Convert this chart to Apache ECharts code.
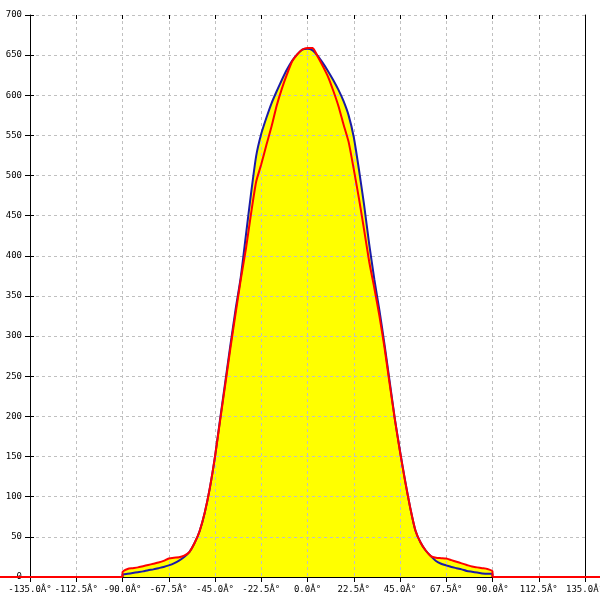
<!DOCTYPE html>
<html>
<head>
<meta charset="utf-8">
<script src="https://cdn.jsdelivr.net/npm/echarts@6/dist/echarts.min.js"></script>
<style>html,body{margin:0;padding:0;background:#fff}#c{width:600px;height:600px}</style>
</head>
<body>
<div id="c"></div>
<script>
// angles (degrees), step 2.5 from -90 to 90
const angles = [-90,-87.5,-85,-82.5,-80,-77.5,-75,-72.5,-70,-67.5,-65,-62.5,-60,-57.5,-55,-52.5,-50,-47.5,-45,-42.5,-40,-37.5,-35,-32.5,-30,-27.5,-25,-22.5,-20,-17.5,-15,-12.5,-10,-7.5,-5,-2.5,0,2.5,5,7.5,10,12.5,15,17.5,20,22.5,25,27.5,30,32.5,35,37.5,40,42.5,45,47.5,50,52.5,55,57.5,60,62.5,65,67.5,70,72.5,75,77.5,80,82.5,85,87.5,90];
const blueValues = [3,4,5,6,7,8.5,9.5,11,12.5,14.5,17,20.5,25,31,42,57,80,111,150,197,243,289,333,373,425,477,524,552,572,590,605,619,632,643,651,657,658,656,649,640,630,619,607,593,575,548,508,464,415,371,332,289,243,197,157,120,86,58,43,33,26,20,16.5,14.5,12.5,11,9.5,7.5,6.5,5.5,4.5,4,4];
const redValues = [6,10,11,12,13.5,15,16.5,18,20,23,24,24.5,26.5,31,42,57,80,111,150,195,240,285,328,370,408,452,492,514,538,561,587,608,626,642,651,657,659,659,648,636,623,606,587,564,542,508,472,433,393,360,325,285,240,196,156,119,86,58,43,33,26,24,23.5,23,21,19,17,15,13,12,11,10,7];
const xTicks = [-135,-112.5,-90,-67.5,-45,-22.5,0,22.5,45,67.5,90,112.5,135];
const yTicks = [0,50,100,150,200,250,300,350,400,450,500,550,600,650,700];
// red baseline (value 0) outside the measured range, running to the picture edges
const pageSpan = [-149.6,142.3];
const baseLeft = [[-149.6,0],[-90,0]];
const baseRight = [[90,0],[142.3,0]];

function pairs(vals){
  const out = [[angles[0],0]];
  angles.forEach((a,i)=>out.push([a,vals[i]]));
  out.push([angles[angles.length-1],0]);
  return out;
}
const blueData = pairs(blueValues);
const redData = pairs(redValues);

const font = {fontFamily:'DejaVu Sans Mono', fontSize:9, color:'#000'};
const xBase = {type:'value', gridIndex:0, min:xTicks[0], max:xTicks[xTicks.length-1], interval:22.5};
const yBase = {type:'value', gridIndex:0, min:yTicks[0], max:yTicks[yTicks.length-1], interval:50};
const hiddenParts = {axisLine:{show:false}, axisTick:{show:false}, axisLabel:{show:false}, splitLine:{show:false}};
const chart = echarts.init(document.getElementById('c'));
chart.setOption({
  animation:false,
  backgroundColor:'#fff',
  grid:[
    {left:30,right:15,top:15,bottom:23,outerBoundsMode:'none',containLabel:false},
    {left:0,right:0,top:15,bottom:23,outerBoundsMode:'none',containLabel:false}
  ],
  xAxis:[Object.assign({
    z:2,
    axisLine:{onZero:false,lineStyle:{color:'#000',width:1}},
    axisTick:{show:true,length:5,lineStyle:{color:'#000'}},
    axisLabel:Object.assign({margin:8,formatter:v=>v.toFixed(1)+'Â°'},font),
    splitLine:{show:true,lineStyle:{color:'#c0c0c0',type:[3,3]}}
  },xBase),Object.assign({
    type:'value', gridIndex:1, min:pageSpan[0], max:pageSpan[1]
  },hiddenParts),Object.assign({
    z:2,
    axisLine:{show:false,onZero:false},
    axisTick:{show:true,inside:true,length:4,lineStyle:{color:'#000'}},
    axisLabel:{show:false}, splitLine:{show:false}
  },xBase)],
  yAxis:[Object.assign({
    z:2,
    axisLine:{show:true,onZero:false,lineStyle:{color:'#000',width:1}},
    axisTick:{show:true,length:5,lineStyle:{color:'#000'}},
    axisLabel:Object.assign({margin:8},font),
    splitLine:{show:true,lineStyle:{color:'#c0c0c0',type:[3,3]}}
  },yBase),Object.assign({
    position:'right', z:2,
    axisLine:{show:true,onZero:false,lineStyle:{color:'#000',width:1}},
    axisTick:{show:false}, axisLabel:{show:false}, splitLine:{show:false}
  },yBase),Object.assign({
    type:'value', gridIndex:1, min:0, max:700
  },hiddenParts),Object.assign({
    position:'left', z:2,
    axisLine:{show:false,onZero:false},
    axisTick:{show:true,inside:true,length:4,lineStyle:{color:'#000'}},
    axisLabel:{show:false}, splitLine:{show:false}
  },yBase)],
  series:[
    {type:'line',data:blueData,showSymbol:false,smooth:0.2,lineStyle:{color:'#ffff00',width:0,opacity:0},itemStyle:{color:'#ffff00'},areaStyle:{color:'#ffff00',opacity:1},z:1},
    {type:'line',data:redData,showSymbol:false,smooth:0.2,lineStyle:{color:'#ffff00',width:0,opacity:0},itemStyle:{color:'#ffff00'},areaStyle:{color:'#ffff00',opacity:1},z:1},
    {type:'line',data:blueData,showSymbol:false,smooth:0.2,itemStyle:{color:'#1a1aa8'},lineStyle:{color:'#1a1aa8',width:2},z:3},
    {type:'line',xAxisIndex:1,yAxisIndex:2,data:baseLeft,showSymbol:false,itemStyle:{color:'#ff0000'},lineStyle:{color:'#ff0000',width:2},z:4},
    {type:'line',xAxisIndex:1,yAxisIndex:2,data:baseRight,showSymbol:false,itemStyle:{color:'#ff0000'},lineStyle:{color:'#ff0000',width:2},z:4},
    {type:'line',data:redData,showSymbol:false,smooth:0.2,itemStyle:{color:'#ff0000'},lineStyle:{color:'#ff0000',width:2},z:5}
  ]
});
</script>
</body>
</html>
